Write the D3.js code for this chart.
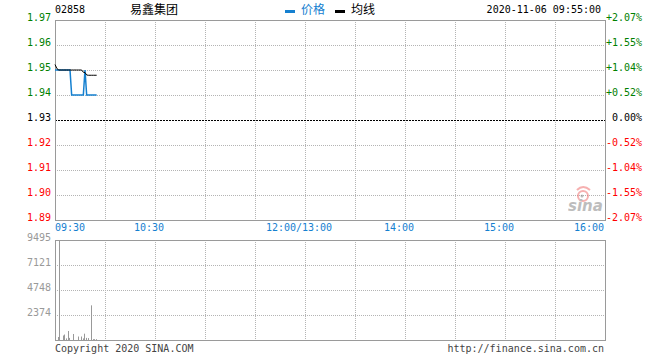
<!DOCTYPE html>
<html><head><meta charset="utf-8">
<script src="https://cdn.jsdelivr.net/npm/d3@7"></script>
<style>body{margin:0;background:#fff}svg{display:block}</style>
</head><body>
<svg id="c" width="660" height="360"></svg>
<script>
const stockCode = "02858";
const stockName = "易鑫集团";
const stamp = "2020-11-06 09:55:00";
const prevClose = 1.93;
// minute index from 09:30
const priceMinutes = d3.range(0, 26);
const priceValues = [1.95,1.95,1.95,1.95,1.95,1.95,1.95,1.95,1.95,1.95,
  1.94,1.94,1.94,1.94,1.94,1.94,1.94,1.94,1.95,1.94,1.94,1.94,1.94,1.94,1.94,1.94];
const avgValues = [1.9522,1.9508,1.9500,1.9500,1.9500,1.9500,1.9500,1.9500,1.9500,1.9500,
  1.9500,1.9500,1.9500,1.9500,1.9500,1.9500,1.9500,1.9491,1.9490,1.9480,1.9479,1.9479,1.9479,1.9479,1.9479,1.9479];
const volumeValues = [0,285,9495,0,430,520,150,855,200,0,570,0,0,330,0,330,150,600,200,180,0,3290,80,80,80,0];
const priceTicks = [1.97,1.96,1.95,1.94,1.93,1.92,1.91,1.90,1.89];
const pctLabels = ["+2.07%","+1.55%","+1.04%","+0.52%","0.00%","-0.52%","-1.04%","-1.55%","-2.07%"];
const volTicks = [9495,7121,4748,2374];
const timeTickMinutes = [0,60,150,210,270,330];
const timeTickLabels = ["09:30","10:30","12:00/13:00","14:00","15:00","16:00"];

const svg = d3.select("#c");
const L = 55, R = 605;
const x = d3.scaleLinear().domain([0,330]).range([L,R]);
const y = d3.scaleLinear().domain([1.89,1.97]).range([220,20]);
const yv = d3.scaleLinear().domain([0,9495]).range([340,240]);
const mono = "'DejaVu Sans Mono', 'Liberation Mono', monospace";
const cjk = "'Noto Sans CJK SC', sans-serif";
const blue = "#1580d0", green = "#008000", red = "#ff0000", grid = "#b4b4b4", frame = "#9a9a9a";

// header
svg.append("text").attr("x",L).attr("y",13).attr("font-family",mono).attr("font-size",10).attr("fill","#000").text(stockCode);
svg.append("text").attr("x",130).attr("y",14).attr("font-family",cjk).attr("font-size",12).attr("fill","#000").text(stockName);
svg.append("rect").attr("x",285).attr("y",10).attr("width",10).attr("height",3).attr("fill",blue);
svg.append("text").attr("x",301).attr("y",14).attr("font-family",cjk).attr("font-size",12).attr("fill",blue).text("价格");
svg.append("rect").attr("x",335).attr("y",10).attr("width",10).attr("height",3).attr("fill","#000");
svg.append("text").attr("x",351).attr("y",14).attr("font-family",cjk).attr("font-size",12).attr("fill","#000").text("均线");
svg.append("text").attr("x",601).attr("y",13).attr("text-anchor","end").attr("font-family",mono).attr("font-size",10).attr("fill","#000").text(stamp);

// grids
const vMins = d3.range(30,330,30);
function vgrid(y0,y1){
  svg.append("g").selectAll("line").data(vMins).join("line")
    .attr("x1",d=>Math.round(x(d))+0.5).attr("x2",d=>Math.round(x(d))+0.5)
    .attr("y1",y0).attr("y2",y1).attr("stroke",grid).attr("stroke-dasharray","1,1");
}
vgrid(20,220); vgrid(240,340);
svg.append("g").selectAll("line").data(priceTicks.slice(1,-1)).join("line")
  .attr("x1",L).attr("x2",R).attr("y1",d=>Math.round(y(d))+0.5).attr("y2",d=>Math.round(y(d))+0.5)
  .attr("stroke",d=>Math.abs(d-prevClose)<1e-9?"#000":grid)
  .attr("stroke-dasharray",d=>Math.abs(d-prevClose)<1e-9?"2,1":"1,1");
svg.append("g").selectAll("line").data(volTicks.slice(1)).join("line")
  .attr("x1",L).attr("x2",R).attr("y1",d=>Math.round(yv(d))+0.5).attr("y2",d=>Math.round(yv(d))+0.5)
  .attr("stroke",grid).attr("stroke-dasharray","1,1");

// frames
svg.append("rect").attr("x",L+0.5).attr("y",20.5).attr("width",R-L).attr("height",200).attr("fill","none").attr("stroke",frame);
svg.append("rect").attr("x",L+0.5).attr("y",240.5).attr("width",R-L).attr("height",100).attr("fill","none").attr("stroke",frame);

// sina watermark
const wm = svg.append("g").attr("opacity",0.55);
wm.append("circle").attr("cx",583).attr("cy",196).attr("r",5).attr("fill","none").attr("stroke","#f07070").attr("stroke-width",2);
wm.append("circle").attr("cx",582).attr("cy",196).attr("r",1.5).attr("fill","#888");
wm.append("path").attr("d","M577,190 Q583,184 590,190").attr("fill","none").attr("stroke","#f07070").attr("stroke-width",2);
wm.append("text").attr("x",568).attr("y",211).attr("font-family","'DejaVu Sans', sans-serif").attr("font-size",15).attr("font-weight","bold").attr("font-style","italic").attr("fill","#888").text("sina");

// left price labels
const colorFor = d => Math.abs(d-prevClose)<1e-9 ? "#000" : (d>prevClose?green:red);
svg.append("g").selectAll("text").data(priceTicks).join("text")
  .attr("x",51).attr("y",d=>y(d)+1).attr("text-anchor","end").attr("font-family",mono).attr("font-size",10)
  .attr("fill",colorFor).text(d=>d.toFixed(2));
svg.append("g").selectAll("text").data(pctLabels).join("text")
  .attr("x",642).attr("y",(d,i)=>y(priceTicks[i])+1).attr("text-anchor","end").attr("font-family",mono).attr("font-size",10)
  .attr("fill",(d,i)=>colorFor(priceTicks[i])).text(d=>d);
svg.append("g").selectAll("text").data(volTicks).join("text")
  .attr("x",51).attr("y",d=>yv(d)+1).attr("text-anchor","end").attr("font-family",mono).attr("font-size",10)
  .attr("fill","#999").text(d=>d);

// time labels
svg.append("g").selectAll("text").data(timeTickMinutes).join("text")
  .attr("x",(d,i)=> i===0 ? x(d) : (i===timeTickMinutes.length-1 ? x(d)-1 : x(d)-6))
  .attr("y",231)
  .attr("text-anchor",(d,i)=> i===0?"start":(i===timeTickMinutes.length-1?"end":"middle"))
  .attr("font-family",mono).attr("font-size",10).attr("fill",blue).text((d,i)=>timeTickLabels[i]);

// volume bars
svg.append("g").selectAll("line").data(priceMinutes.filter((m,i)=>volumeValues[i]>0)).join("line")
  .attr("x1",m=>Math.round(x(m))+1.5).attr("x2",m=>Math.round(x(m))+1.5)
  .attr("y1",340).attr("y2",m=>yv(volumeValues[m])).attr("stroke","#999").attr("stroke-width",1);

// price & avg lines
const line = d3.line().x(d=>x(d[0])).y(d=>y(d[1]));
svg.append("path").datum(priceMinutes.map((m,i)=>[m,priceValues[i]])).attr("d",line)
  .attr("fill","none").attr("stroke",blue).attr("stroke-width",1.5);
svg.append("path").datum(priceMinutes.map((m,i)=>[m,avgValues[i]])).attr("d",line)
  .attr("fill","none").attr("stroke","#000").attr("stroke-width",1);

// footer
svg.append("text").attr("x",L).attr("y",352).attr("font-family",mono).attr("font-size",10).attr("fill","#444").text("Copyright 2020 SINA.COM");
svg.append("text").attr("x",604).attr("y",352).attr("text-anchor","end").attr("font-family",mono).attr("font-size",10).attr("fill","#444").text("http://finance.sina.com.cn");
</script>
</body></html>
